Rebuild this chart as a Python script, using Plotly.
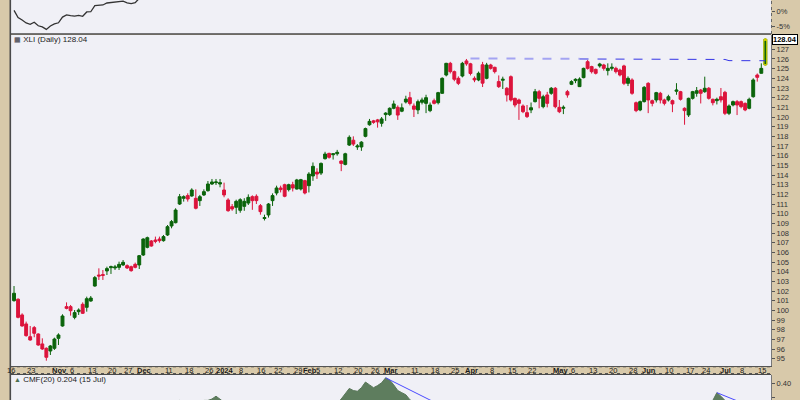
import pandas as pd
import plotly.graph_objects as go

# ---------------- data ----------------
holidays = ["2023-11-23", "2023-12-25", "2024-01-01", "2024-01-15", "2024-02-19",
            "2024-03-29", "2024-05-27", "2024-06-19", "2024-07-04"]
dates = [d.strftime("%Y-%m-%d") for d in pd.bdate_range("2023-10-16", "2024-07-15")
         if d.strftime("%Y-%m-%d") not in holidays]

opens = [101.01, 101.15, 99.53, 98.6, 97.28, 98.22, 97.56, 96.53, 96.08, 95.8,
         96.08, 97.11, 98.39, 100.39, 100.39, 99.28, 99.87, 100.63, 100.32, 100.97,
         102.52, 103.66, 103.7, 104.08, 104.42, 104.39, 104.45, 104.7, 104.63, 104.52,
         104.76, 104.7, 105.73, 106.52, 107.18, 107.28, 107.38, 107.21, 107.8, 108.73,
         109.07, 111.0, 111.59, 111.87, 111.83, 111.59, 111.35, 111.94, 112.38, 113.07,
         113.21, 113.07, 112.45, 111.42, 110.73, 110.66, 110.35, 110.76, 111.1, 111.76,
         111.8, 110.83, 109.5, 109.87, 111.35, 112.14, 112.66, 113.0, 112.49, 113.0,
         112.55, 112.55, 113.42, 112.9, 113.9, 114.3, 114.2, 115.69, 116.24, 116.1,
         116.2, 115.45, 115.1, 117.1, 117.6, 116.9, 116.9, 118.0, 119.2, 119.6,
         119.7, 119.35, 120.25, 120.25, 120.9, 121.0, 120.6, 121.55, 122.0, 121.14,
         120.73, 121.52, 121.41, 120.66, 121.69, 121.48, 122.45, 124.34, 125.55, 124.69,
         124.0, 124.24, 125.8, 125.5, 124.0, 123.83, 125.4, 124.0, 125.38, 125.14,
         123.66, 123.8, 122.97, 124.17, 121.93, 121.76, 121.14, 120.45, 120.73, 121.59,
         122.62, 121.07, 122.28, 122.45, 122.97, 121.0, 120.9, 122.62, 123.38, 123.76,
         123.14, 124.07, 125.72, 125.21, 124.93, 125.28, 125.38, 124.8, 125.03, 125.03,
         124.86, 125.28, 123.48, 123.83, 121.48, 120.73, 121.59, 123.48, 121.69, 121.76,
         122.45, 121.76, 121.76, 121.69, 122.66, 122.62, 120.9, 120.21, 121.93, 122.45,
         122.79, 122.62, 122.97, 121.83, 121.69, 122.1, 122.55, 120.38, 121.24, 121.59,
         121.59, 121.41, 120.9, 122.1, 124.34, 124.52, 125.4]
highs = [102.52, 101.25, 99.7, 98.84, 98.39, 98.39, 97.63, 97.11, 96.18, 96.42,
         97.18, 97.63, 99.6, 100.83, 100.56, 100.04, 100.21, 100.83, 101.42, 101.49,
         103.56, 104.35, 104.18, 104.52, 104.63, 104.7, 105.04, 105.21, 104.76, 104.63,
         104.94, 105.73, 107.45, 107.63, 107.28, 107.63, 107.63, 107.8, 108.83, 109.35,
         110.56, 112.04, 111.9, 112.11, 112.63, 112.52, 111.94, 112.52, 113.38, 113.59,
         113.59, 113.59, 113.21, 111.6, 111.0, 111.45, 111.6, 111.6, 112.0, 111.9,
         112.0, 111.0, 109.9, 111.1, 112.1, 112.9, 112.9, 113.1, 113.1, 113.3,
         113.6, 113.6, 113.5, 114.3, 115.3, 114.7, 115.3, 116.4, 116.3, 116.2,
         116.6, 115.5, 116.3, 118.1, 118.0, 117.2, 117.5, 118.9, 119.8, 119.7,
         119.8, 120.0, 120.5, 121.0, 121.7, 121.2, 121.4, 122.2, 122.6, 121.4,
         121.8, 122.0, 122.3, 121.5, 121.9, 122.6, 124.1, 125.6, 125.7, 124.8,
         124.2, 125.7, 126.0, 125.6, 124.2, 124.7, 125.7, 125.6, 125.5, 125.2,
         124.3, 124.17, 123.1, 124.3, 122.0, 121.9, 121.3, 121.24, 121.5, 122.9,
         122.8, 122.3, 122.6, 123.1, 123.1, 121.76, 121.2, 122.8, 123.8, 124.0,
         124.1, 125.1, 125.9, 125.3, 125.0, 125.6, 125.5, 125.55, 125.55, 125.2,
         125.0, 125.4, 124.2, 124.0, 121.6, 121.7, 123.2, 123.6, 121.8, 122.6,
         122.6, 121.9, 122.3, 121.8, 123.5, 122.7, 121.0, 122.0, 122.7, 123.1,
         122.9, 124.17, 123.1, 121.9, 122.0, 123.0, 122.7, 121.3, 121.7, 121.76,
         121.7, 121.5, 122.0, 124.0, 124.5, 125.55, 128.15]
lows = [100.9, 99.18, 98.32, 97.28, 96.87, 97.22, 96.35, 95.91, 94.8, 95.39,
        95.91, 96.42, 98.32, 100.11, 99.46, 99.08, 99.53, 99.63, 99.87, 100.9,
        102.45, 103.15, 103.15, 103.66, 103.77, 104.18, 104.18, 104.59, 104.28, 104.0,
        104.35, 104.28, 105.63, 106.42, 106.59, 106.94, 107.0, 107.11, 107.7, 108.49,
        109.0, 110.9, 111.25, 111.25, 111.76, 110.45, 110.8, 111.83, 112.28, 112.97,
        112.97, 112.73, 111.7, 110.2, 110.3, 109.97, 110.1, 110.3, 110.9, 110.4,
        111.0, 109.9, 109.3, 109.6, 110.8, 111.9, 112.2, 111.7, 112.3, 112.3,
        112.5, 112.4, 112.0, 112.2, 113.4, 113.6, 114.0, 115.6, 115.7, 115.6,
        116.0, 114.4, 115.0, 117.0, 117.0, 116.6, 116.5, 117.9, 119.1, 119.3,
        118.9, 119.0, 119.6, 120.1, 120.8, 119.7, 120.5, 121.4, 121.2, 120.0,
        120.3, 121.3, 120.4, 120.5, 121.3, 121.3, 122.4, 124.2, 124.5, 123.7,
        123.3, 124.1, 125.3, 124.3, 123.6, 123.7, 123.1, 123.9, 124.9, 124.5,
        123.0, 122.9, 121.6, 121.6, 121.0, 119.7, 120.4, 119.9, 120.4, 121.5,
        120.9, 120.9, 121.0, 122.3, 120.9, 120.4, 120.3, 122.0, 123.3, 123.5,
        123.1, 124.0, 124.9, 124.5, 124.4, 125.1, 124.8, 124.3, 124.8, 124.5,
        124.2, 123.3, 123.2, 122.3, 120.5, 120.6, 121.5, 120.4, 121.1, 121.5,
        121.4, 121.2, 121.6, 120.5, 122.3, 121.7, 119.2, 120.0, 121.8, 122.1,
        121.4, 122.5, 121.8, 121.2, 121.3, 121.5, 120.2, 120.2, 121.1, 120.2,
        120.9, 120.6, 120.8, 122.0, 123.66, 124.5, 125.3]
closes = [101.77, 99.28, 98.39, 97.39, 96.94, 97.63, 96.42, 96.01, 95.15, 96.32,
          97.04, 97.46, 99.42, 100.21, 99.97, 99.77, 100.04, 99.7, 101.21, 101.28,
          103.39, 103.56, 103.63, 104.32, 104.52, 104.49, 104.76, 104.97, 104.39, 104.11,
          104.45, 105.66, 107.38, 107.52, 106.66, 107.14, 107.21, 107.63, 108.66, 109.18,
          110.38, 111.76, 111.76, 111.52, 112.45, 110.56, 111.76, 112.28, 113.07, 113.28,
          113.28, 113.21, 111.94, 110.31, 110.49, 111.28, 111.45, 111.28, 111.69, 111.35,
          111.35, 110.21, 109.6, 111.0, 111.87, 112.66, 112.49, 111.8, 113.0, 112.66,
          113.49, 113.52, 112.14, 114.1, 114.9, 114.1, 115.2, 116.17, 115.83, 116.2,
          116.35, 115.2, 116.2, 117.9, 117.2, 117.0, 117.4, 118.8, 119.55, 119.45,
          119.5, 119.8, 120.4, 120.9, 121.35, 120.2, 120.95, 121.85, 121.4, 120.8,
          121.59, 121.76, 122.0, 121.24, 121.41, 122.52, 124.0, 125.55, 124.69, 123.9,
          123.48, 125.55, 125.5, 124.5, 123.83, 124.52, 123.5, 125.38, 125.03, 124.69,
          123.14, 123.9, 122.28, 121.76, 121.24, 121.41, 120.55, 120.04, 120.96, 122.62,
          121.93, 122.1, 121.41, 122.97, 121.07, 120.55, 121.0, 122.28, 123.66, 123.9,
          123.93, 125.03, 125.03, 124.69, 124.52, 125.48, 125.03, 125.03, 125.14, 124.69,
          124.34, 123.48, 124.0, 122.45, 120.66, 121.59, 123.07, 121.76, 121.41, 122.52,
          121.76, 121.41, 122.1, 121.35, 122.79, 121.83, 120.66, 121.93, 122.62, 122.72,
          122.45, 122.97, 121.93, 121.48, 121.83, 121.76, 120.38, 121.14, 121.59, 121.24,
          121.07, 120.73, 121.83, 123.83, 124.1, 125.03, 128.04]

cmf = [0.05, 0.02, -0.02, -0.05, -0.08, -0.06, -0.1, -0.12, -0.15, -0.12, -0.1, -0.08,
       -0.05, 0.0, 0.02, 0.04, 0.05, 0.06, 0.08, 0.12, 0.15, 0.16, 0.17, 0.18, 0.19, 0.2,
       0.21, 0.2, 0.19, 0.18, 0.17, 0.19, 0.22,
       0.24, 0.23, 0.24, 0.25, 0.26, 0.27, 0.26, 0.27, 0.28, 0.27, 0.26, 0.27, 0.26, 0.27,
       0.28, 0.28, 0.29, 0.31, 0.28, 0.26,
       0.22, 0.2, 0.18, 0.17, 0.16, 0.15, 0.14, 0.13, 0.12, 0.1, 0.11, 0.12, 0.13, 0.14,
       0.13, 0.14, 0.15, 0.16, 0.15, 0.17, 0.19, 0.2, 0.19, 0.21, 0.23, 0.24, 0.25, 0.26,
       0.29, 0.33, 0.365, 0.35, 0.345, 0.37, 0.41, 0.39, 0.37, 0.385, 0.405, 0.44, 0.425,
       0.39, 0.35, 0.335, 0.32, 0.285,
       0.265, 0.26, 0.24, 0.22, 0.21, 0.2, 0.22, 0.24, 0.25, 0.24, 0.23, 0.21, 0.2, 0.19, 0.2,
       0.18, 0.17, 0.15, 0.14, 0.13, 0.12, 0.1, 0.09, 0.07, 0.05, 0.04, 0.03, 0.02, 0.03,
       0.05, 0.04, 0.03, 0.04, 0.05, 0.03, 0.02, 0.01,
       0.02, 0.04, 0.06, 0.08, 0.1, 0.12, 0.13, 0.14, 0.13, 0.14, 0.15, 0.14, 0.13, 0.12,
       0.11, 0.1, 0.09, 0.07, 0.05, 0.04, 0.05, 0.04,
       0.05, 0.06, 0.08, 0.09, 0.1, 0.11, 0.13, 0.15, 0.16, 0.18, 0.2, 0.21, 0.22, 0.24, 0.25,
       0.28, 0.335, 0.31, 0.27, 0.25, 0.24, 0.23, 0.22, 0.21, 0.2, 0.2, 0.19, 0.2, 0.204]

perf_base = 101.3  # reference close for the % performance panel
perf = [(c / perf_base - 1) * 100 for c in closes]

# horizontal resistance line (dates, price)
res_light_x = ["2024-03-28", "2024-05-07"]
res_light_y = [126.05, 126.02]
res_dark_x = ["2024-05-07", "2024-06-28", "2024-07-01", "2024-07-15"]
res_dark_y = [126.0, 125.95, 125.83, 125.82]
# CMF trend lines (dates, value)
cmf_tl1_x = ["2024-02-28", "2024-03-27"]
cmf_tl1_y = [0.44, 0.154]
cmf_tl2_x = ["2024-06-26", "2024-07-15"]
cmf_tl2_y = [0.335, 0.196]

tick_dates = ["2023-10-16", "2023-10-23", "2023-11-01", "2023-11-06", "2023-11-13", "2023-11-20",
              "2023-11-27", "2023-12-01", "2023-12-11", "2023-12-18", "2023-12-26", "2024-01-02",
              "2024-01-08", "2024-01-16", "2024-01-22", "2024-01-29", "2024-02-01", "2024-02-05",
              "2024-02-12", "2024-02-20", "2024-02-26", "2024-03-01", "2024-03-11", "2024-03-18",
              "2024-03-25", "2024-04-01", "2024-04-08", "2024-04-15", "2024-04-22", "2024-05-01",
              "2024-05-06", "2024-05-13", "2024-05-20", "2024-05-28", "2024-06-03", "2024-06-10",
              "2024-06-17", "2024-06-24", "2024-07-01", "2024-07-08", "2024-07-15"]
tick_text = ["16", "23", "<b>Nov</b>", "6", "13", "20", "27", "<b>Dec</b>", "11", "18", "26",
             "<b>2024</b>", "8", "16", "22", "29", "<b>Feb</b>", "5", "12", "20", "26", "<b>Mar</b>",
             "11", "18", "25", "<b>Apr</b>", "8", "15", "22", "<b>May</b>", "6", "13", "20", "28",
             "<b>Jun</b>", "10", "17", "24", "<b>Jul</b>", "8", "15"]
price_ticks = list(range(95, 128))

assert len(dates) == 187
for arr in (opens, highs, lows, closes, cmf):
    assert len(arr) == 187, len(arr)

# ---------------- style ----------------
GREEN = "#0b640b"
RED = "#dc143c"
BEIGE = "#d8c9aa"
PANEL = "#f0f0f6"
AXIS = "#555555"
FONT = "Liberation Sans"
W, H, L, R = 800, 400, 11, 29
PW = W - L - R


def px(x):
    return (x - L) / PW


def py(y):
    return 1 - y / H


fig = go.Figure()

fig.add_trace(go.Candlestick(
    x=dates, open=opens, high=highs, low=lows, close=closes,
    increasing=dict(line=dict(color=GREEN, width=1), fillcolor=GREEN),
    decreasing=dict(line=dict(color=RED, width=1), fillcolor=RED),
    whiskerwidth=0, xaxis="x", yaxis="y", hoverinfo="skip"))
fig.add_trace(go.Candlestick(
    x=dates[-1:], open=opens[-1:], high=highs[-1:], low=lows[-1:], close=closes[-1:],
    increasing=dict(line=dict(color="#f0e000", width=1), fillcolor=GREEN),
    whiskerwidth=0, xaxis="x", yaxis="y", hoverinfo="skip"))

fig.add_trace(go.Scatter(x=res_light_x, y=res_light_y, mode="lines",
                         line=dict(color="#a4a4f2", width=2, dash="dash"),
                         xaxis="x", yaxis="y"))
fig.add_trace(go.Scatter(x=res_dark_x, y=res_dark_y, mode="lines",
                         line=dict(color="#3434e6", width=1, dash="dash"),
                         xaxis="x", yaxis="y"))

fig.add_trace(go.Scatter(x=dates, y=perf, mode="lines",
                         line=dict(color="#333333", width=1.3),
                         xaxis="x2", yaxis="y2"))

fig.add_trace(go.Scatter(x=dates, y=cmf, mode="lines", fill="tozeroy",
                         fillcolor="#5e7d5e", line=dict(color="#587658", width=1),
                         xaxis="x3", yaxis="y3"))
fig.add_trace(go.Scatter(x=cmf_tl1_x, y=cmf_tl1_y, mode="lines",
                         line=dict(color="#4a4aff", width=1), xaxis="x3", yaxis="y3"))
fig.add_trace(go.Scatter(x=cmf_tl2_x, y=cmf_tl2_y, mode="lines",
                         line=dict(color="#4a4aff", width=1), xaxis="x3", yaxis="y3"))

xr = [-0.75, 187.4]
common_x = dict(type="category", categoryorder="array", categoryarray=dates, range=xr,
                showgrid=False, zeroline=False, fixedrange=True)

fig.update_layout(
    width=W, height=H, margin=dict(l=L, r=R, t=0, b=0, autoexpand=False),
    paper_bgcolor=BEIGE, plot_bgcolor=PANEL, showlegend=False,
    boxgap=0.25, boxgroupgap=0.05,
    font=dict(family=FONT, size=8, color="#222222"),
    xaxis=dict(**common_x, domain=[0, 1], anchor="y", rangeslider=dict(visible=False),
               showticklabels=False, ticks="", showline=True, linecolor=AXIS, linewidth=1),
    yaxis=dict(domain=[py(366), py(35)], range=[94.25, 128.48], side="right",
               tickmode="array", tickvals=price_ticks,
               tickfont=dict(size=7.5, color="#333333", family=FONT),
               ticks="outside", ticklen=3, tickcolor="#555555",
               showgrid=False, zeroline=False, showline=True, linecolor="#777777",
               fixedrange=True),
    xaxis2=dict(**common_x, domain=[0, 1], anchor="y2", matches="x",
                showticklabels=False, ticks="", showline=False),
    yaxis2=dict(domain=[py(34), 1], range=[-7.64, 4.0], side="right",
                tickmode="array", tickvals=[0, -5], ticktext=["0%", "-5%"],
                tickfont=dict(size=7.5, color="#333333", family=FONT),
                ticks="outside", ticklen=3, tickcolor="#555555",
                showgrid=False, zeroline=False, showline=False, fixedrange=True),
    xaxis3=dict(**common_x, domain=[0, 1], anchor="y3", matches="x",
                showticklabels=False, ticks="", showline=False),
    yaxis3=dict(domain=[0, py(375)], range=[0.283, 0.46], side="right",
                tickmode="array", tickvals=[0.3, 0.4], ticktext=["0.30", "0.40"],
                tickfont=dict(size=7.5, color="#333333", family=FONT),
                ticks="outside", ticklen=3, tickcolor="#555555",
                showgrid=False, zeroline=False, showline=True, linecolor="#777777",
                fixedrange=True),
)

shapes = [
    dict(type="line", xref="paper", yref="paper", x0=px(10.3), x1=px(10.3), y0=0, y1=1,
         line=dict(color="#4a4a4a", width=1.6)),
    dict(type="line", xref="paper", yref="paper", x0=px(10), x1=px(771), y0=py(34), y1=py(34),
         line=dict(color="#4a4a4a", width=1.4)),
    dict(type="line", xref="paper", yref="paper", x0=px(10), x1=px(771), y0=py(374.5), y1=py(374.5),
         line=dict(color="#4a4a4a", width=1.2)),
    dict(type="line", xref="paper", yref="paper", x0=px(11), x1=px(771), y0=py(366.8), y1=py(366.8),
         line=dict(color="#555555", width=1, dash="dot")),
    dict(type="line", xref="paper", yref="paper", x0=px(11), x1=px(771), y0=py(373.5), y1=py(373.5),
         line=dict(color="#555555", width=1, dash="dot")),
    dict(type="line", xref="paper", yref="paper", x0=px(771.5), x1=px(771.5), y0=py(34), y1=1,
         line=dict(color="#666666", width=1, dash="dot")),
]
fig.update_layout(shapes=shapes)

annotations = [
    dict(xref="paper", yref="paper", x=px(12), y=py(39.5), xanchor="left", yanchor="middle",
         text="<span style='color:#334;font-size:7px'>&#9638;</span> XLI (Daily) 128.04",
         showarrow=False, font=dict(size=8, color="#222222", family=FONT)),
    dict(xref="paper", yref="paper", x=px(12), y=py(379.5), xanchor="left", yanchor="middle",
         text="<span style='color:#4d6e4d;font-size:7px'>&#9650;</span> CMF(20) 0.204 (15 Jul)",
         showarrow=False, font=dict(size=8, color="#222222", family=FONT)),
    dict(xref="paper", yref="y", x=1, y=closes[-1], xanchor="left", yanchor="middle",
         xshift=1, text="<b>128.04</b>", showarrow=False, bgcolor="#ffffff",
         bordercolor="#000000", borderwidth=1, borderpad=0,
         font=dict(size=7.5, color="#000000", family=FONT)),
]
for d, t in zip(tick_dates, tick_text):
    annotations.append(dict(xref="x", yref="paper", x=d, y=py(370.2), xanchor="center",
                            yanchor="middle", xshift=-3, text=t, showarrow=False,
                            font=dict(size=7.5, color="#1a1a1a", family=FONT)))
fig.update_layout(annotations=annotations)

fig.write_html("out.html", config={"displayModeBar": False},
               post_script="document.body.style.margin='0px';document.body.style.overflow='hidden';")
